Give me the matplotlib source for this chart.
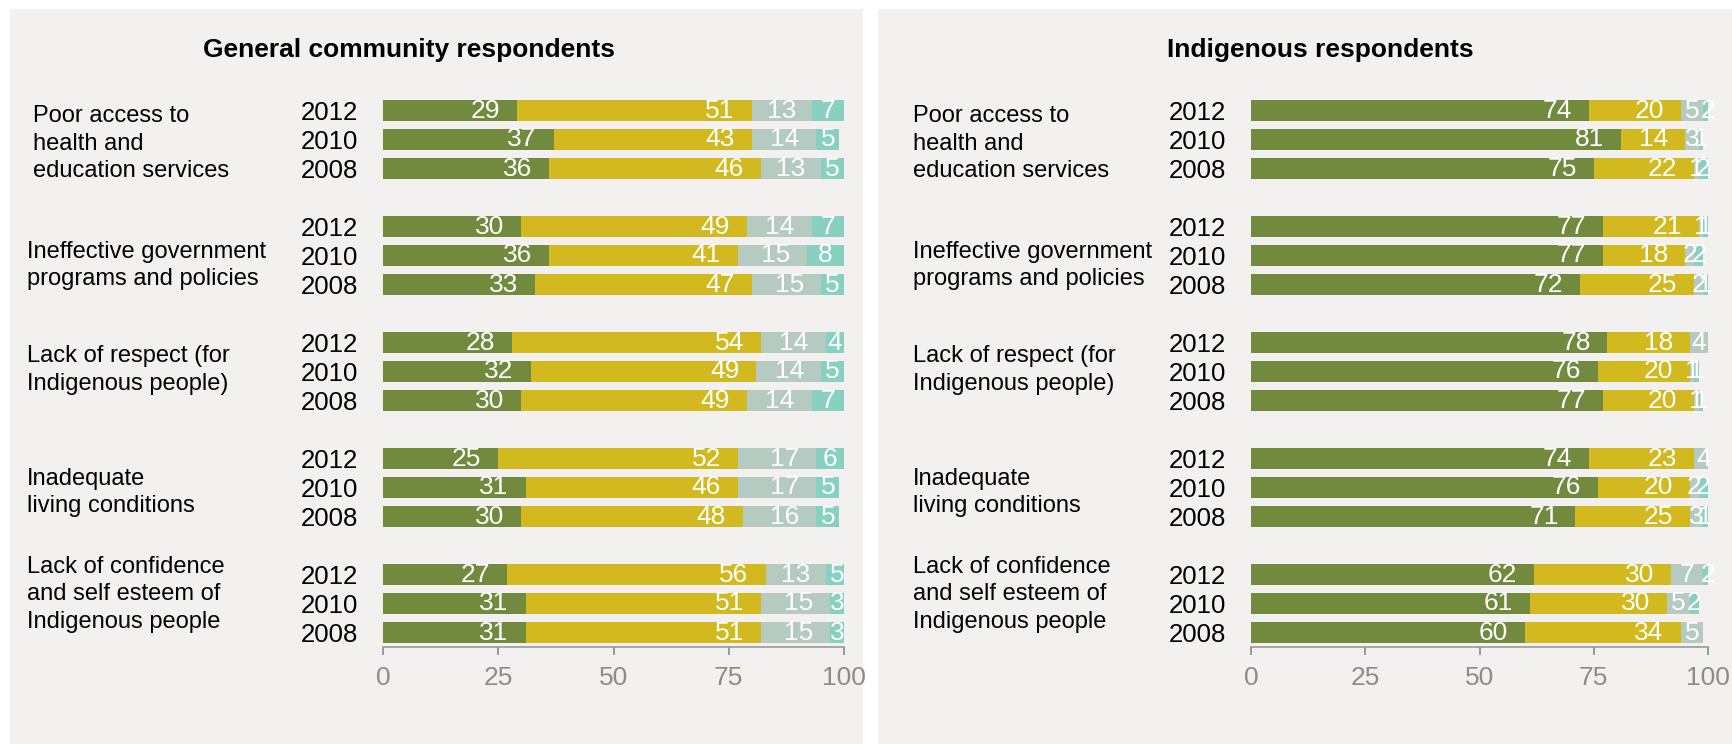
import matplotlib.pyplot as plt
import numpy as np
from matplotlib.patches import Rectangle

plt.rcParams['font.family'] = ['Liberation Sans', 'DejaVu Sans']

# data
categories = ['Poor access to\nhealth and\neducation services',
              'Ineffective government\nprograms and policies',
              'Lack of respect (for\nIndigenous people)',
              'Inadequate\nliving conditions',
              'Lack of confidence\nand self esteem of\nIndigenous people']
years = ['2012', '2010', '2008']
titles = ['General community respondents', 'Indigenous respondents']

# general community: rows = category x year (2012, 2010, 2008)
gen_s1 = [29, 37, 36, 30, 36, 33, 28, 32, 30, 25, 31, 30, 27, 31, 31]
gen_s2 = [51, 43, 46, 49, 41, 47, 54, 49, 49, 52, 46, 48, 56, 51, 51]
gen_s3 = [13, 14, 13, 14, 15, 15, 14, 14, 14, 17, 17, 16, 13, 15, 15]
gen_s4 = [7, 5, 5, 7, 8, 5, 4, 5, 7, 6, 5, 5, 5, 3, 3]

# indigenous
ind_s1 = [74, 81, 75, 77, 77, 72, 78, 76, 77, 74, 76, 71, 62, 61, 60]
ind_s2 = [20, 14, 22, 21, 18, 25, 18, 20, 20, 23, 20, 25, 30, 30, 34]
ind_s3 = [5, 3, 1, 1, 2, 2, 4, 1, 1, 4, 2, 3, 7, 5, 5]
ind_s4 = [2, 1, 2, 1, 2, 1, 0, 1, 1, 0, 2, 1, 2, 2, 0]

colors = ['#718a3d', '#d1b91f', '#b5cbc2', '#88d0c0']
bg = '#f2f1ef'

W, H = 1732, 744
fig = plt.figure(figsize=(W / 100, H / 100), dpi=100)

# panel backgrounds
fig.patches.append(Rectangle((10 / W, 0), 853 / W, 735 / H, transform=fig.transFigure,
                             facecolor=bg, edgecolor='none', zorder=-1))
fig.patches.append(Rectangle((878 / W, 0), 854 / W, 735 / H, transform=fig.transFigure,
                             facecolor=bg, edgecolor='none', zorder=-1))

panels = [(gen_s1, gen_s2, gen_s3, gen_s4), (ind_s1, ind_s2, ind_s3, ind_s4)]
ax_x = [(383, 844), (1251, 1708)]
cat_x = [[33, 27, 27, 27, 27], [913, 913, 913, 913, 913]]
cat_off = [0.14, 0.34, -0.05, 0.17, -0.32]
title_x = [409, 1320]

pos = np.array([g * 4 + r for g in range(len(categories)) for r in range(3)])

for p, series in enumerate(panels):
    x0, x1 = ax_x[p]
    ax = fig.add_axes([x0 / W, (H - 647) / H, (x1 - x0) / W, (647 - 96) / H])
    ax.set_facecolor('none')
    left = np.zeros(len(pos))
    for s, vals in enumerate(series):
        vals = np.array(vals, dtype=float)
        ax.barh(pos, vals, left=left, height=0.72, color=colors[s], linewidth=0)
        for y, l, v in zip(pos, left, vals):
            if v <= 0:
                continue
            end = l + v
            xc = max(end - 6.9, l + v / 2)
            ax.text(xc, y, f'{int(v)}', ha='center', va='center', color='white',
                    fontsize=19)
        left += vals
    ax.set_xlim(0, 100)
    ax.set_ylim(18.5, -0.5)
    ax.set_yticks(pos)
    ax.set_yticklabels(years * len(categories), fontsize=18.5)
    ax.tick_params(axis='y', length=0, pad=18)
    ax.set_xticks([0, 25, 50, 75, 100])
    ax.tick_params(axis='x', colors='#8c8c8c', labelsize=19, length=6, width=1.2, pad=8)
    for sp in ['top', 'right', 'left']:
        ax.spines[sp].set_visible(False)
    ax.spines['bottom'].set_color('#999999')
    ax.spines['bottom'].set_linewidth(1.2)

    for g, cat in enumerate(categories):
        yc = ax.transData.transform((0, g * 4 + 1 + cat_off[g]))[1]
        fig.text(cat_x[p][g] / W, yc / H, cat, ha='left', va='center', fontsize=17,
                 linespacing=1.33)

    fig.text(title_x[p] / W, (H - 50) / H, titles[p], ha='center', va='center',
             fontsize=19, fontweight='bold')

fig.savefig('out.png', dpi=100)
